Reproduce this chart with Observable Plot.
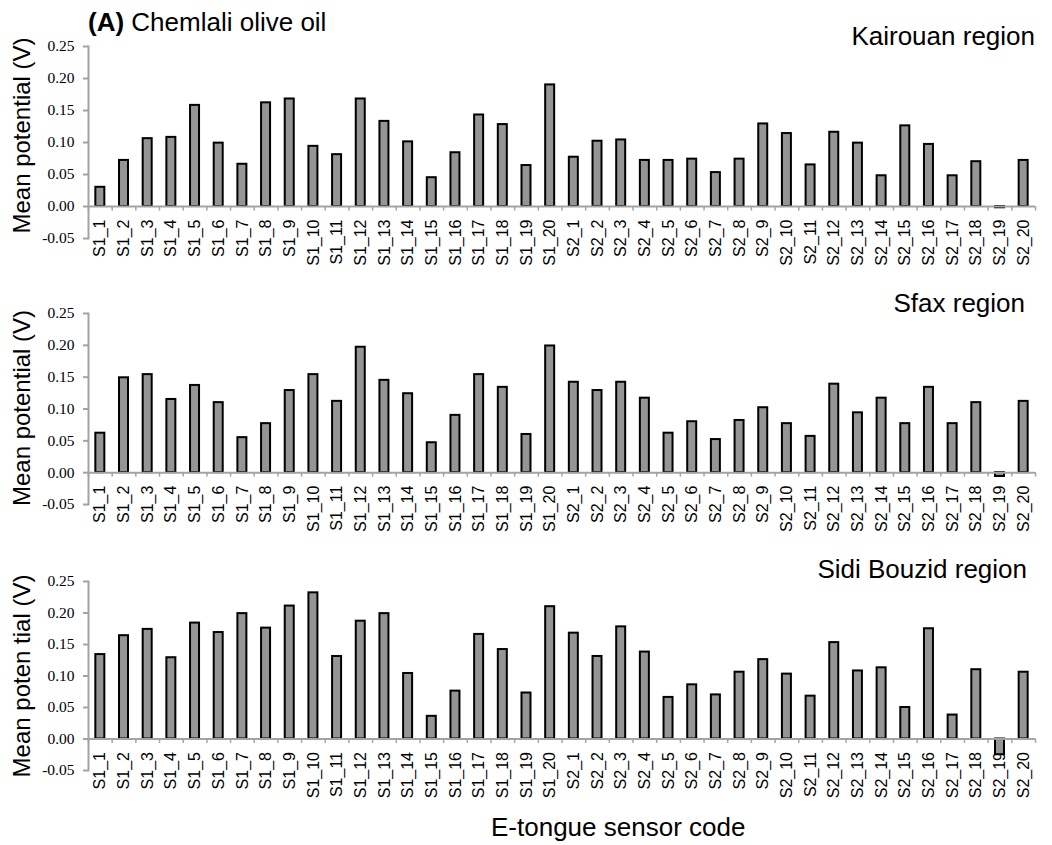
<!DOCTYPE html>
<html>
<head>
<meta charset="utf-8">
<script src="https://cdn.jsdelivr.net/npm/d3@7"></script>
<script src="https://cdn.jsdelivr.net/npm/@observablehq/plot@0.6"></script>
<style>
  body { margin: 0; background: #fff; }
  #chart { position: relative; width: 1052px; height: 845px; font-family: "Liberation Sans", Arial, sans-serif; color: #000; }
  .t { position: absolute; font-size: 26px; line-height: 26px; white-space: nowrap; }
  .panel { position: absolute; left: 0; }
</style>
</head>
<body>
<div id="chart"></div>
<script>
// ---- Data ----
const codes = [
  "S1_1","S1_2","S1_3","S1_4","S1_5","S1_6","S1_7","S1_8","S1_9","S1_10",
  "S1_11","S1_12","S1_13","S1_14","S1_15","S1_16","S1_17","S1_18","S1_19","S1_20",
  "S2_1","S2_2","S2_3","S2_4","S2_5","S2_6","S2_7","S2_8","S2_9","S2_10",
  "S2_11","S2_12","S2_13","S2_14","S2_15","S2_16","S2_17","S2_18","S2_19","S2_20"
];
const kairouan = [
  0.030, 0.072, 0.106, 0.108, 0.158, 0.099, 0.066, 0.162, 0.168, 0.094,
  0.081, 0.168, 0.133, 0.101, 0.045, 0.084, 0.143, 0.128, 0.064, 0.190,
  0.077, 0.102, 0.104, 0.072, 0.072, 0.074, 0.053, 0.074, 0.129, 0.114,
  0.065, 0.116, 0.099, 0.048, 0.126, 0.097, 0.048, 0.070, -0.002, 0.072
];
const sfax = [
  0.062, 0.149, 0.154, 0.115, 0.137, 0.110, 0.055, 0.077, 0.129, 0.154,
  0.112, 0.197, 0.145, 0.124, 0.047, 0.090, 0.154, 0.134, 0.060, 0.199,
  0.142, 0.129, 0.142, 0.117, 0.062, 0.080, 0.052, 0.082, 0.102, 0.077,
  0.057, 0.139, 0.094, 0.117, 0.077, 0.134, 0.077, 0.110, -0.006, 0.112
];
const sidiBouzid = [
  0.134, 0.164, 0.174, 0.129, 0.184, 0.169, 0.199, 0.176, 0.211, 0.232,
  0.131, 0.187, 0.199, 0.104, 0.036, 0.076, 0.166, 0.142, 0.073, 0.210,
  0.168, 0.131, 0.178, 0.138, 0.066, 0.086, 0.070, 0.106, 0.126, 0.103,
  0.068, 0.153, 0.108, 0.113, 0.050, 0.175, 0.038, 0.110, -0.025, 0.106
];
const yTicks = [-0.05, 0.00, 0.05, 0.10, 0.15, 0.20, 0.25];
const yDomain = [-0.05, 0.25];
const regions = ["Kairouan region", "Sfax region", "Sidi Bouzid region"];
const yTitles = ["Mean potential (V)", "Mean potential (V)", "Mean poten tial (V)"];
const mainTitleBold = "(A)";
const mainTitle = "Chemlali olive oil";
const xTitle = "E-tongue sensor code";

// ---- Layout ----
const panels = [
  {values: kairouan,   top: 0,   mt: 46, mb: 32, tdy: -7, rt: 23,  rr: 17},
  {values: sfax,       top: 270, mt: 43, mb: 36, tdy: -1, rt: 290, rr: 27},
  {values: sidiBouzid, top: 540, mt: 41, mb: 40, tdy: 0,  rt: 556, rr: 25}
];
const axisGray = "#a3a3a3";
const chart = document.getElementById("chart");
const boundaries = d3.range(codes.length + 1).map(k => k - 0.5);

panels.forEach((p, pi) => {
  const data = codes.map((c, i) => ({i, code: c, v: p.values[i]}));
  const svg = Plot.plot({
    width: 1052,
    height: 270,
    marginLeft: 88,
    marginRight: 17,
    marginTop: p.mt,
    marginBottom: p.mb,
    style: {background: "transparent", overflow: "visible"},
    x: {type: "linear", domain: [-0.5, codes.length - 0.5], axis: null},
    y: {domain: yDomain, axis: null},
    marks: [
      Plot.axisY(yTicks, {
        tickFormat: d => d.toFixed(2),
        tickSize: 5, tickPadding: 9,
        stroke: axisGray, strokeWidth: 2, fill: "#000",
        fontFamily: "Liberation Serif, Times New Roman, serif",
        fontSize: 15.5, label: null
      }),
      Plot.text(data, {
        x: "i", y: 0, text: "code", rotate: -90, textAnchor: "end",
        dy: 13, fontSize: 16, fill: "#000",
        fontFamily: "Liberation Sans, Arial, sans-serif"
      }),
      Plot.rect(data, {
        x1: d => d.i - 0.19, x2: d => d.i + 0.19,
        y1: 0, y2: "v",
        fill: "#959595", stroke: "#000", strokeWidth: 2
      }),
      Plot.frame({anchor: "left", stroke: axisGray, strokeWidth: 2}),
      Plot.ruleY([0], {stroke: axisGray, strokeWidth: 2}),
      Plot.ruleX(boundaries, {y1: 0, y2: -0.007, stroke: axisGray, strokeWidth: 1.5}),
      Plot.text([yTitles[pi]], {
        frameAnchor: "left", textAnchor: "middle", rotate: -90, dx: -66, dy: p.tdy,
        fontSize: 24, fill: "#000",
        fontFamily: "Liberation Sans, Arial, sans-serif"
      })
    ]
  });
  svg.classList.add("panel");
  svg.style.top = p.top + "px";
  chart.appendChild(svg);

  const rt = document.createElement("div");
  rt.className = "t";
  rt.style.top = p.rt + "px";
  rt.style.right = p.rr + "px";
  rt.textContent = regions[pi];
  chart.appendChild(rt);
});

const title = document.createElement("div");
title.className = "t";
title.style.left = "88px";
title.style.top = "9px";
const b = document.createElement("b");
b.textContent = mainTitleBold;
title.appendChild(b);
title.appendChild(document.createTextNode(" " + mainTitle));
chart.appendChild(title);

const xt = document.createElement("div");
xt.className = "t";
xt.style.left = "491px";
xt.style.top = "814px";
xt.textContent = xTitle;
chart.appendChild(xt);
</script>
</body>
</html>
